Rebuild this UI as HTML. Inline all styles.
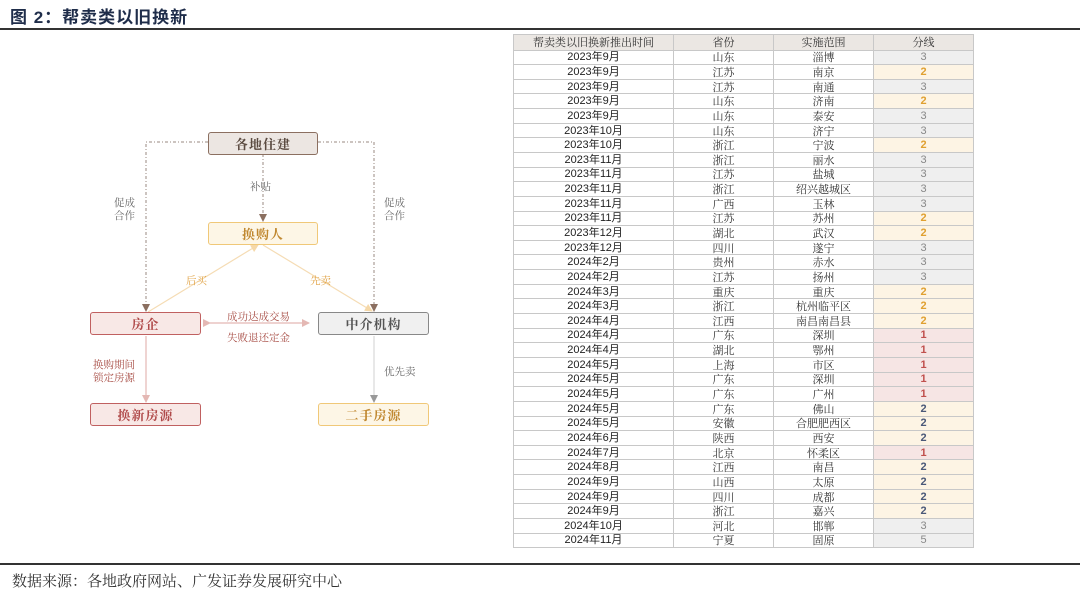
<!DOCTYPE html>
<html><head><meta charset="utf-8">
<style>
*{margin:0;padding:0;box-sizing:border-box}
body{width:1080px;height:595px;background:#fff;position:relative;overflow:hidden;font-family:"Liberation Sans","Noto Sans CJK SC",sans-serif}
.title{position:absolute;left:10px;top:3px;font-size:17px;font-weight:bold;color:#1f2d4a;font-family:"Liberation Sans","Noto Sans CJK SC",sans-serif;letter-spacing:1px}
.hl{position:absolute;left:0;width:1080px;height:1.5px;background:#333}
.src{position:absolute;left:12px;top:570px;font-size:15px;color:#333;font-family:"Liberation Serif","Noto Serif CJK SC",serif}
table{position:absolute;left:513px;top:34px;border-collapse:collapse;table-layout:fixed;width:460px}
td,th{border:1px solid #c8c8c8;height:14.65px;font-size:11px;line-height:12px;text-align:center;color:#222;padding:0;overflow:hidden;white-space:nowrap}
th{background:#ebe7e3;font-weight:normal;font-family:"Noto Serif CJK SC",serif;color:#333;height:15.5px}
td.c{font-family:"Noto Serif CJK SC",serif;color:#333}
td.g{background:#efefef;color:#888}
td.o{background:#fdf4e4;color:#e0a030;font-weight:bold}
td.b{background:#fdf4e4;color:#4a5878;font-weight:bold}
td.r{background:#f6e5e4;color:#c0504d;font-weight:bold}
.box{position:absolute;height:23px;border:1.5px solid;border-radius:3px;display:flex;align-items:center;justify-content:center;font-family:"Noto Serif CJK SC",serif;font-weight:bold;font-size:13px;letter-spacing:1px}
.lb{position:absolute;font-family:"Noto Serif CJK SC",serif;font-size:10.5px;line-height:13px;text-align:center}
</style></head><body>
<div class="title">图 2：帮卖类以旧换新</div>
<div class="hl" style="top:28px"></div>
<div class="hl" style="top:563px"></div>
<div class="src">数据来源：各地政府网站、广发证券发展研究中心</div>

<svg style="position:absolute;left:0;top:0" width="500" height="460">
<defs>
<marker id="ab" markerWidth="8" markerHeight="8" refX="7" refY="4" orient="auto" markerUnits="userSpaceOnUse"><path d="M0,0 L8,4 L0,8z" fill="#8b6f60"/></marker>
<marker id="ao" markerWidth="8" markerHeight="8" refX="7" refY="4" orient="auto" markerUnits="userSpaceOnUse"><path d="M0,0 L8,4 L0,8z" fill="#f5d8a8"/></marker>
<marker id="ap" markerWidth="8" markerHeight="8" refX="7" refY="4" orient="auto" markerUnits="userSpaceOnUse"><path d="M0,0 L8,4 L0,8z" fill="#e4b8b4"/></marker>
<marker id="ag" markerWidth="8" markerHeight="8" refX="7" refY="4" orient="auto" markerUnits="userSpaceOnUse"><path d="M0,0 L8,4 L0,8z" fill="#999"/></marker>
</defs>
<g fill="none" stroke="#9a8a80" stroke-width="1" stroke-dasharray="3,2,1,2">
<path d="M208,142 H146 V311" marker-end="url(#ab)"/>
<path d="M318,142 H374 V311" marker-end="url(#ab)"/>
<path d="M263,154 V221" marker-end="url(#ab)"/>
</g>
<line x1="148" y1="312" x2="258" y2="245" stroke="#f5dcb4" stroke-width="1.2" marker-end="url(#ao)"/>
<line x1="263" y1="245" x2="372" y2="311" stroke="#f5dcb4" stroke-width="1.2" marker-end="url(#ao)"/>
<line x1="210" y1="323" x2="309" y2="323" stroke="#e4b8b4" stroke-width="1.2" marker-end="url(#ap)" marker-start="url(#ap)"/>
<line x1="146" y1="336" x2="146" y2="402" stroke="#e4b8b4" stroke-width="1.2" marker-end="url(#ap)"/>
<line x1="374" y1="336" x2="374" y2="402" stroke="#d8d8d8" stroke-width="1.2" marker-end="url(#ag)"/>
</svg>

<div class="box" style="left:208px;top:132px;width:110px;background:#ece6e2;border-color:#8b6f60;color:#5a4a40">各地住建</div>
<div class="box" style="left:208px;top:222px;width:110px;background:#fdf6e6;border-color:#f0c878;color:#c08830">换购人</div>
<div class="box" style="left:90px;top:312px;width:111px;background:#f8e8e6;border-color:#c06060;color:#b04a4a">房企</div>
<div class="box" style="left:318px;top:312px;width:111px;background:#f0f0f0;border-color:#888;color:#555">中介机构</div>
<div class="box" style="left:90px;top:403px;width:111px;background:#f8e8e6;border-color:#c06060;color:#b04a4a">换新房源</div>
<div class="box" style="left:318px;top:403px;width:111px;background:#fdf6e6;border-color:#f0c878;color:#c08830">二手房源</div>

<div class="lb" style="left:250px;top:180px;color:#666">补贴</div>
<div class="lb" style="left:114px;top:196px;color:#666">促成<br>合作</div>
<div class="lb" style="left:384px;top:196px;color:#666">促成<br>合作</div>
<div class="lb" style="left:186px;top:274px;color:#e0a040">后买</div>
<div class="lb" style="left:310px;top:274px;color:#e0a040">先卖</div>
<div class="lb" style="left:227px;top:310px;color:#a84e46">成功达成交易</div>
<div class="lb" style="left:227px;top:331px;color:#a84e46">失败退还定金</div>
<div class="lb" style="left:93px;top:358px;color:#a84e46">换购期间<br>锁定房源</div>
<div class="lb" style="left:384px;top:365px;color:#666">优先卖</div>

<table>
<colgroup><col style="width:160px"><col style="width:100px"><col style="width:100px"><col style="width:100px"></colgroup>
<tr><th>帮卖类以旧换新推出时间</th><th>省份</th><th>实施范围</th><th>分线</th></tr>
<tr><td>2023年9月</td><td class="c">山东</td><td class="c">淄博</td><td class="g">3</td></tr>
<tr><td>2023年9月</td><td class="c">江苏</td><td class="c">南京</td><td class="o">2</td></tr>
<tr><td>2023年9月</td><td class="c">江苏</td><td class="c">南通</td><td class="g">3</td></tr>
<tr><td>2023年9月</td><td class="c">山东</td><td class="c">济南</td><td class="o">2</td></tr>
<tr><td>2023年9月</td><td class="c">山东</td><td class="c">泰安</td><td class="g">3</td></tr>
<tr><td>2023年10月</td><td class="c">山东</td><td class="c">济宁</td><td class="g">3</td></tr>
<tr><td>2023年10月</td><td class="c">浙江</td><td class="c">宁波</td><td class="o">2</td></tr>
<tr><td>2023年11月</td><td class="c">浙江</td><td class="c">丽水</td><td class="g">3</td></tr>
<tr><td>2023年11月</td><td class="c">江苏</td><td class="c">盐城</td><td class="g">3</td></tr>
<tr><td>2023年11月</td><td class="c">浙江</td><td class="c">绍兴越城区</td><td class="g">3</td></tr>
<tr><td>2023年11月</td><td class="c">广西</td><td class="c">玉林</td><td class="g">3</td></tr>
<tr><td>2023年11月</td><td class="c">江苏</td><td class="c">苏州</td><td class="o">2</td></tr>
<tr><td>2023年12月</td><td class="c">湖北</td><td class="c">武汉</td><td class="o">2</td></tr>
<tr><td>2023年12月</td><td class="c">四川</td><td class="c">遂宁</td><td class="g">3</td></tr>
<tr><td>2024年2月</td><td class="c">贵州</td><td class="c">赤水</td><td class="g">3</td></tr>
<tr><td>2024年2月</td><td class="c">江苏</td><td class="c">扬州</td><td class="g">3</td></tr>
<tr><td>2024年3月</td><td class="c">重庆</td><td class="c">重庆</td><td class="o">2</td></tr>
<tr><td>2024年3月</td><td class="c">浙江</td><td class="c">杭州临平区</td><td class="o">2</td></tr>
<tr><td>2024年4月</td><td class="c">江西</td><td class="c">南昌南昌县</td><td class="o">2</td></tr>
<tr><td>2024年4月</td><td class="c">广东</td><td class="c">深圳</td><td class="r">1</td></tr>
<tr><td>2024年4月</td><td class="c">湖北</td><td class="c">鄂州</td><td class="r">1</td></tr>
<tr><td>2024年5月</td><td class="c">上海</td><td class="c">市区</td><td class="r">1</td></tr>
<tr><td>2024年5月</td><td class="c">广东</td><td class="c">深圳</td><td class="r">1</td></tr>
<tr><td>2024年5月</td><td class="c">广东</td><td class="c">广州</td><td class="r">1</td></tr>
<tr><td>2024年5月</td><td class="c">广东</td><td class="c">佛山</td><td class="b">2</td></tr>
<tr><td>2024年5月</td><td class="c">安徽</td><td class="c">合肥肥西区</td><td class="b">2</td></tr>
<tr><td>2024年6月</td><td class="c">陕西</td><td class="c">西安</td><td class="b">2</td></tr>
<tr><td>2024年7月</td><td class="c">北京</td><td class="c">怀柔区</td><td class="r">1</td></tr>
<tr><td>2024年8月</td><td class="c">江西</td><td class="c">南昌</td><td class="b">2</td></tr>
<tr><td>2024年9月</td><td class="c">山西</td><td class="c">太原</td><td class="b">2</td></tr>
<tr><td>2024年9月</td><td class="c">四川</td><td class="c">成都</td><td class="b">2</td></tr>
<tr><td>2024年9月</td><td class="c">浙江</td><td class="c">嘉兴</td><td class="b">2</td></tr>
<tr><td>2024年10月</td><td class="c">河北</td><td class="c">邯郸</td><td class="g">3</td></tr>
<tr><td>2024年11月</td><td class="c">宁夏</td><td class="c">固原</td><td class="g">5</td></tr>
</table>
</body></html>
